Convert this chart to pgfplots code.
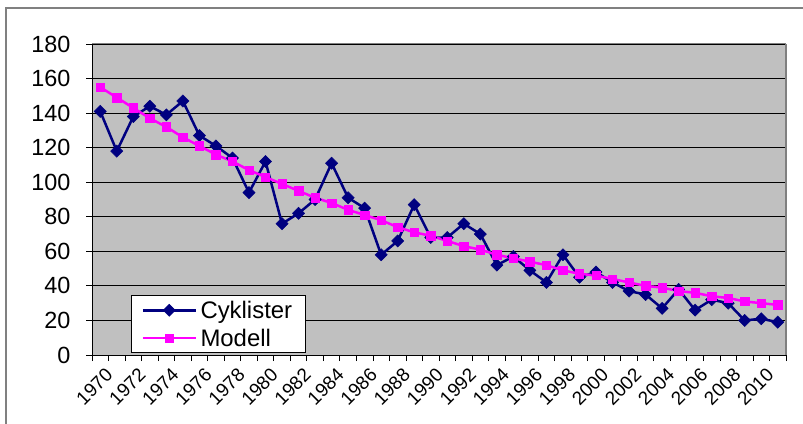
\documentclass[border=0pt]{standalone}
\usepackage{pgfplots}
\pgfplotsset{compat=1.18}
\usepackage{pgfplotstable}
\usepackage{fontspec}
\setmainfont{Liberation Sans}
\definecolor{navyc}{RGB}{0,0,128}
\definecolor{magc}{RGB}{255,0,255}
\definecolor{plotgray}{RGB}{192,192,192}
\definecolor{bordergray}{RGB}{128,128,128}

\pgfplotstableread{
year cyk modell
1970 141 155
1971 118 149
1972 138 143
1973 144 137
1974 139 132
1975 147 126
1976 127 121
1977 121 116
1978 114 112
1979 94 107
1980 112 103
1981 76 99
1982 82 95
1983 90 91
1984 111 88
1985 91 84
1986 85 81
1987 58 78
1988 66 74
1989 87 71
1990 68 69
1991 68 66
1992 76 63
1993 70 61
1994 52 58
1995 57 56
1996 49 54
1997 42 52
1998 58 49
1999 45 47
2000 48 46
2001 42 44
2002 37 42
2003 35 40
2004 27 39
2005 38 37
2006 26 36
2007 32 34
2008 30 33
2009 20 31
2010 21 30
2011 19 29
}\datatable

\begin{document}
\begin{tikzpicture}[x=1bp,y=1bp]
\useasboundingbox (0,0) rectangle (803,423);
\fill[white] (0,0) rectangle (803,423);
\draw[bordergray, line width=1.5bp] (6,-2) -- (6,415) -- (806,415);
\begin{axis}[
  at={(92bp,68bp)}, anchor=south west,
  scale only axis, width=694bp, height=311bp,
  xmin=1969.5, xmax=2011.5, ymin=0, ymax=180,
  axis background/.style={fill=plotgray},
  axis lines=left,
  axis line style={-, black, line width=1bp},
  ytick={0,20,...,180},
  xtick={1970,1972,...,2010},
  minor xtick={1969.5,1970.5,...,2011.5},
  major x tick style={draw=none},
  tick align=outside,
  major tick length=6bp, minor tick length=6bp,
  tick style={black, line width=0.8bp},
  ymajorgrids, grid style={black, line width=0.8bp},
  /pgf/number format/assume math mode=true,
  /pgf/number format/1000 sep={},
  yticklabel style={font=\fontsize{23.5}{27}\selectfont, xshift=-12bp},
  xticklabel style={font=\fontsize{19}{21}\selectfont, rotate=45, anchor=north east, inner sep=1bp, yshift=-6bp},
  legend style={at={(rel axis cs:0.0562,0.0064)}, anchor=south west,
    draw=black, line width=1bp, fill=white,
    font=\fontsize{24}{28}\selectfont, row sep=5bp, inner xsep=10bp, inner ysep=3bp,
    nodes={inner xsep=3.5bp}},
  legend cell align=left,
  legend image code/.code={\draw[mark repeat=2, mark phase=2, #1] plot coordinates {(0bp,0bp) (26.5bp,0bp) (53bp,0bp)};},
  clip=false,
]
\addplot[navyc, line width=2.5bp, mark=square*, mark size=4.3bp,
  mark options={rotate=45, solid, fill=navyc, draw=navyc, line width=0.5bp}]
  table[x=year, y=cyk] {\datatable};
\addlegendentry{Cyklister}
\addplot[magc, line width=2.5bp, mark=square*, mark size=4.2bp,
  mark options={solid, fill=magc, draw=magc, line width=0.5bp}]
  table[x=year, y=modell] {\datatable};
\addlegendentry{Modell}
\draw[bordergray, line width=1bp] (rel axis cs:0,1) -- (rel axis cs:1,1);
\draw[bordergray, line width=2.5bp] (rel axis cs:1,1) -- (rel axis cs:1,0);
\end{axis}
\end{tikzpicture}
\end{document}
